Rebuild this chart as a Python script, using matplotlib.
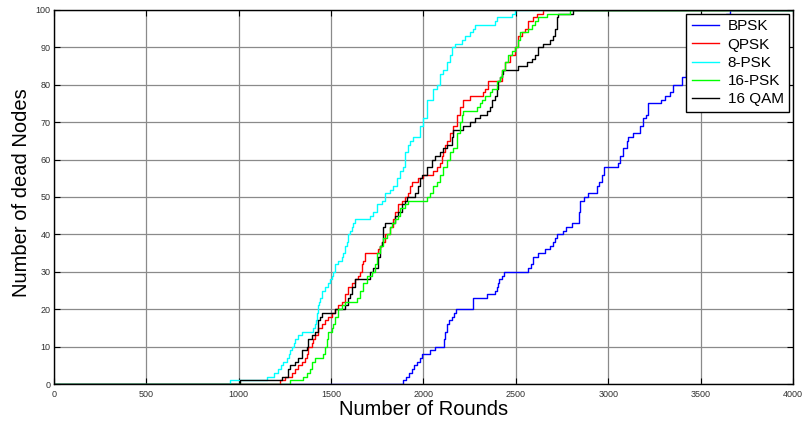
import matplotlib
matplotlib.use("Agg")
import matplotlib.pyplot as plt

plt.rcParams['font.family'] = ['Liberation Sans', 'DejaVu Sans']

# Dead-node counts over simulation rounds (step points: round, nodes dead from that round on)
bpsk_rounds = [0, 1891, 1905, 1920, 1936, 1950, 1963, 1980, 1990, 2035, 2060, 2110, 2118, 2126,
               2140, 2153, 2165, 2176, 2266, 2345, 2369, 2385, 2396, 2405, 2411, 2425, 2436, 2567,
               2580, 2591, 2621, 2658, 2685, 2700, 2712, 2725, 2757, 2770, 2802, 2843, 2848, 2870,
               2888, 2940, 2950, 2965, 2975, 3055, 3064, 3082, 3100, 3108, 3136, 3172, 3187, 3204,
               3217, 3284, 3307, 3334, 3352, 3397, 3420, 3445, 3470, 3500, 3525, 3550, 3580, 3610,
               3635, 3659, 4000]
bpsk_dead = [0, 1, 2, 3, 4, 5, 6, 7, 8, 9, 10, 12, 14, 16,
             17, 18, 19, 20, 23, 24, 24, 25, 26, 27, 28, 29, 30, 31,
             32, 34, 35, 36, 37, 38, 39, 40, 41, 42, 43, 46, 49, 50,
             51, 53, 54, 56, 58, 59, 61, 63, 65, 66, 67, 69, 71, 72,
             75, 76, 77, 78, 80, 82, 84, 86, 87, 89, 91, 93, 95, 97,
             99, 100, 100]

qpsk_rounds = [0, 1223, 1250, 1287, 1304, 1322, 1341, 1359, 1368, 1376, 1395, 1404, 1413, 1431,
               1449, 1467, 1485, 1503, 1521, 1539, 1557, 1575, 1593, 1611, 1629, 1647, 1656, 1665,
               1674, 1683, 1755, 1765, 1774, 1792, 1819, 1836, 1846, 1864, 1882, 1900, 1918, 1927,
               1936, 1972, 1999, 2053, 2071, 2089, 2098, 2107, 2116, 2126, 2143, 2161, 2180, 2198,
               2215, 2252, 2324, 2333, 2351, 2423, 2441, 2468, 2495, 2513, 2532, 2549, 2567, 2594,
               2613, 2648, 4000]
qpsk_dead = [0, 1, 2, 3, 4, 5, 6, 7, 8, 10, 11, 12, 13, 15,
             16, 17, 18, 19, 20, 21, 22, 24, 26, 27, 28, 29, 30, 32,
             33, 35, 36, 37, 38, 40, 42, 44, 46, 48, 49, 50, 51, 53,
             54, 55, 56, 57, 58, 59, 61, 62, 64, 65, 67, 69, 72, 74,
             76, 77, 78, 79, 81, 84, 86, 88, 90, 93, 94, 95, 97, 98,
             99, 100, 100]

psk8_rounds = [0, 953, 1151, 1190, 1214, 1230, 1241, 1260, 1270, 1277, 1290, 1300, 1304, 1322,
               1341, 1404, 1413, 1417, 1422, 1431, 1436, 1440, 1449, 1467, 1485, 1495, 1503, 1512,
               1521, 1539, 1557, 1566, 1575, 1584, 1593, 1602, 1611, 1620, 1629, 1701, 1710, 1728,
               1747, 1774, 1792, 1819, 1836, 1855, 1873, 1887, 1900, 1918, 1927, 1945, 1981, 1999,
               2017, 2053, 2071, 2089, 2107, 2126, 2143, 2153, 2171, 2207, 2225, 2252, 2270, 2279,
               2387, 2396, 2477, 2495, 4000]
psk8_dead = [0, 1, 2, 3, 4, 5, 6, 7, 8, 9, 10, 11, 12, 13,
             14, 15, 16, 17, 19, 21, 22, 23, 25, 26, 27, 28, 29, 30,
             32, 33, 34, 35, 37, 38, 40, 41, 42, 43, 44, 44, 45, 46,
             48, 49, 51, 52, 53, 55, 57, 58, 62, 64, 65, 66, 69, 71,
             76, 79, 80, 83, 84, 86, 88, 90, 91, 92, 93, 94, 95, 96,
             97, 98, 99, 100, 100]

psk16_rounds = [0, 1277, 1349, 1368, 1386, 1395, 1413, 1458, 1467, 1476, 1485, 1503, 1512, 1521,
                1539, 1557, 1575, 1638, 1656, 1674, 1695, 1720, 1737, 1747, 1765, 1782, 1801, 1819,
                1828, 1846, 1864, 1873, 1900, 1918, 2017, 2035, 2053, 2071, 2089, 2107, 2126, 2143,
                2161, 2180, 2198, 2207, 2215, 2288, 2306, 2315, 2333, 2360, 2369, 2396, 2414, 2423,
                2441, 2459, 2477, 2495, 2513, 2522, 2567, 2586, 2604, 2621, 2667, 2793, 4000]
psk16_dead = [0, 1, 2, 3, 4, 6, 7, 8, 10, 12, 14, 15, 16, 18,
              20, 21, 22, 23, 25, 27, 29, 30, 32, 35, 37, 39, 40, 42,
              43, 44, 45, 47, 48, 49, 50, 51, 53, 54, 56, 58, 60, 62,
              63, 67, 70, 72, 73, 74, 75, 76, 77, 78, 79, 81, 82, 84,
              86, 88, 89, 90, 92, 94, 95, 96, 97, 98, 99, 100, 100]

qam16_rounds = [0, 1006, 1232, 1268, 1277, 1304, 1322, 1341, 1368, 1376, 1395, 1413, 1431, 1440,
                1449, 1521, 1575, 1593, 1602, 1611, 1629, 1710, 1728, 1755, 1765, 1774, 1782, 1792,
                1846, 1864, 1882, 1900, 1909, 1954, 1972, 1981, 1990, 2017, 2044, 2062, 2089, 2107,
                2126, 2153, 2161, 2215, 2252, 2279, 2306, 2342, 2360, 2369, 2387, 2396, 2405, 2414,
                2423, 2432, 2512, 2559, 2586, 2604, 2621, 2648, 2685, 2703, 2712, 2721, 2730, 2811,
                4000]
qam16_dead = [0, 1, 2, 4, 5, 6, 7, 9, 10, 12, 13, 14, 17, 18,
              19, 20, 21, 23, 24, 26, 28, 30, 31, 34, 37, 38, 42, 43,
              45, 46, 48, 49, 50, 51, 53, 55, 56, 58, 60, 61, 62, 63,
              64, 66, 68, 69, 70, 71, 72, 73, 74, 76, 77, 79, 81, 82,
              83, 84, 85, 86, 87, 88, 90, 91, 92, 93, 95, 98, 99, 100,
              100]

series = [
    ("BPSK", bpsk_rounds, bpsk_dead, "#0000ff", 2.0),
    ("QPSK", qpsk_rounds, qpsk_dead, "#ff0000", 2.1),
    ("8-PSK", psk8_rounds, psk8_dead, "#00ffff", 2.2),
    ("16-PSK", psk16_rounds, psk16_dead, "#00ff00", 2.4),
    ("16 QAM", qam16_rounds, qam16_dead, "#000000", 2.3),
]

x_ticks = list(range(0, 4001, 500))
y_ticks = list(range(0, 101, 10))

fig = plt.figure(figsize=(8.03, 4.23), dpi=100)
ax = fig.add_axes([54 / 803, 1 - 384 / 423, 739 / 803, 374 / 423])

handles = []
for name, xs, ys, color, z in series:
    (h,) = ax.step(xs, ys, where="post", color=color, lw=1.0, label=name, zorder=z)
    handles.append(h)

ax.set_xlim(0, 4000)
ax.set_ylim(0, 100)
ax.set_xticks(x_ticks)
ax.set_yticks(y_ticks)
ax.grid(True, color="#8a8a8a", lw=0.9, ls="-", zorder=1)
ax.set_axisbelow(True)
ax.tick_params(direction="in", top=True, right=True, length=4, width=0.8,
               labelsize=6.5, labelcolor="#303030")
ax.tick_params(axis="x", pad=4)
ax.tick_params(axis="y", pad=2.5)
for sp in ax.spines.values():
    sp.set_linewidth(1.0)
    sp.set_color("black")

ax.set_xlabel("Number of Rounds", fontsize=14.5)
ax.xaxis.set_label_coords(0.5, (384 - 409) / 374)
ax.xaxis.label.set_va("center")
ax.set_ylabel("Number of dead Nodes", fontsize=14.5)
ax.yaxis.set_label_coords((22 - 54) / 739, (384 - 193) / 374)
ax.yaxis.label.set_va("center")

leg = ax.legend(handles=handles, loc="upper right",
                bbox_to_anchor=((789 - 54) / 739, (384 - 14) / 374),
                borderaxespad=0, fontsize=11, fancybox=False, framealpha=1,
                edgecolor="black", handlelength=1.8, handletextpad=0.55,
                borderpad=0.35, labelspacing=0.28)
leg.get_frame().set_linewidth(1.0)
leg.set_zorder(5)

fig.savefig("out.png", dpi=100)
